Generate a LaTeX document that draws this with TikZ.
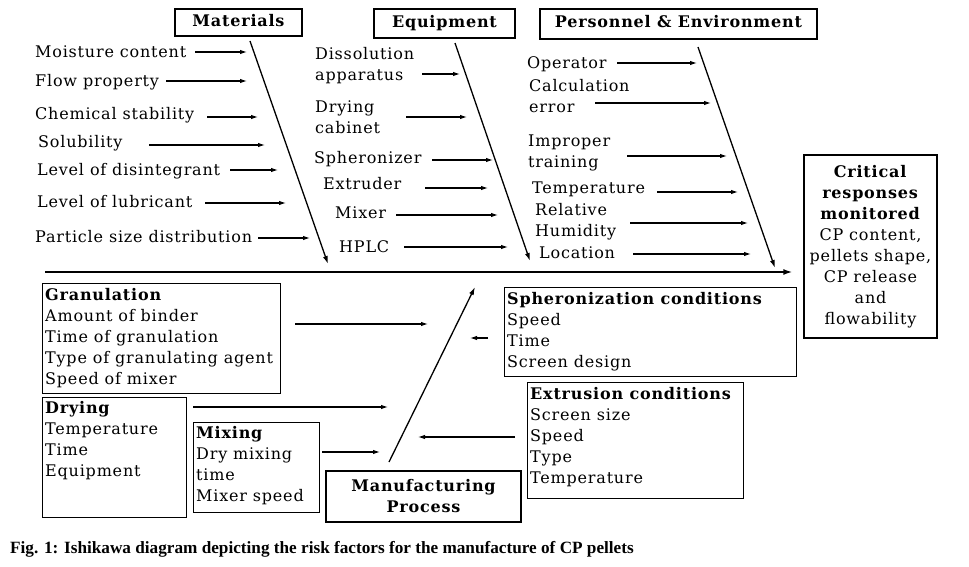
\documentclass[tikz,border=0pt]{standalone}
\usepackage{fontspec}
\setmainfont{DejaVu Serif}[LetterSpace=5]
\newfontfamily\capfont{Liberation Serif}
\usetikzlibrary{arrows.meta}

\newcommand{\txtsize}{\fontsize{16}{21}\selectfont}

\tikzset{
  cause/.style={font=\txtsize, inner sep=0pt, anchor=north west, align=left},
  head/.style={draw, line width=1.2pt, font=\txtsize\bfseries, inner sep=0pt,
    text height=11pt, text depth=3pt},
  frame/.style={draw, line width=1.3pt, inner sep=0pt, anchor=north west},
  bone/.style={line width=1.3pt, -{Latex[length=8pt,width=5pt]}},
  arr/.style={line width=1.1pt, -{Latex[length=7pt,width=4.5pt]}},
  spine/.style={line width=1.6pt, -{Latex[length=9pt,width=6pt]}},
}

\begin{document}
\begin{tikzpicture}[x=1pt,y=-1pt]
  \useasboundingbox (0,0) rectangle (969,567);

  % category heads
  \node[head, minimum width=127pt, minimum height=27pt] (mat) at (238.5,22.5) {Materials};
  \node[head, minimum width=141pt, minimum height=29pt] (equ) at (444.5,23.5) {Equipment};
  \node[head, minimum width=277pt, minimum height=30pt] (pers) at (678.5,24) {Personnel \& Environment};

  % causes: name/x/baseline/text/arrow y/arrow start/arrow end
  \foreach \nm/\tx/\by/\lbl/\ay/\xa/\xb in {
      mc/35/57/Moisture content/52/195/247,
      fp/35/86/Flow property/81/166/247,
      cs/35/119/Chemical stability/117/207/258,
      sol/38/147/Solubility/145/149/265,
      ld/37/175/Level of disintegrant/170/230/278,
      ll/37/207/Level of lubricant/203/205/286,
      ps/35/242/Particle size distribution/238/258/310,
      da/315/59/{Dissolution\\apparatus}/74/422/460,
      dc/315/112/{Drying\\cabinet}/117/406/467,
      sp/314/163/Spheronizer/160/432/493,
      ex/323/189/Extruder/188/425/488,
      mx/335/218/Mixer/215/396/498,
      hp/339/252/HPLC/247/404/508,
      op/527/68/Operator/63/617/697,
      ce/529/91/{Calculation\\error}/103/595/711,
      it/528/146/{Improper\\training}/156/627/727,
      te/532/193/Temperature/192/657/738,
      rh/535/215/{Relative\\Humidity}/223/630/748,
      lo/539/258/Location/254/633/751}{
    \node[cause] (\nm) at (\tx,{\by-14.7}) {\strut\lbl};
    \coordinate (\nm-s) at (\xa,\ay);
    \coordinate (\nm-e) at (\xb,\ay);
    \draw[arr] (\nm-s) -- (\nm-e);
  }

  % bones
  \coordinate (mat-a) at (250,41);  \coordinate (mat-b) at (328,264);
  \coordinate (equ-a) at (455,43);  \coordinate (equ-b) at (530,261);
  \coordinate (pers-a) at (698,47); \coordinate (pers-b) at (775,268);
  \foreach \from/\to in {mat-a/mat-b,equ-a/equ-b,pers-a/pers-b}
    \draw[bone] (\from) -- (\to);

  % effect
  \node[draw, line width=1.3pt, minimum width=133pt, minimum height=183pt, inner sep=0pt,
    align=center, font=\txtsize] (crit) at (870.5,246.5)
    {\textbf{Critical}\\\textbf{responses}\\\textbf{monitored}\\CP content,\\pellets shape,\\CP release\\and\\flowability};
  \coordinate (spine-a) at (45,272);
  \draw[spine, shorten >=11pt] (spine-a) -- (crit.west |- spine-a);

  % manufacturing process
  \node[draw, line width=1.3pt, minimum width=195pt, minimum height=51pt, inner sep=0pt,
    align=center, font=\txtsize\bfseries] (mfg) at (423.5,496.5) {Manufacturing\\Process};
  \coordinate (mfg-a) at (389,462); \coordinate (mfg-b) at (475,287);
  \draw[bone] (mfg-a) -- (mfg-b);

  \node[frame, minimum width=238pt, minimum height=110pt] (gran) at (42,283) {};
  \node[cause] (gran-t) at ([xshift=3pt,yshift=-3pt]gran.north west)
    {\strut\textbf{Granulation}\\Amount of binder\\Time of granulation\\Type of granulating agent\\Speed of mixer};
  \node[frame, minimum width=144pt, minimum height=120pt] (dry) at (42,397) {};
  \node[cause] (dry-t) at ([xshift=3pt,yshift=-2pt]dry.north west)
    {\strut\textbf{Drying}\\Temperature\\Time\\Equipment};
  \node[frame, minimum width=126pt, minimum height=90pt] (mix) at (193,422) {};
  \node[cause] (mix-t) at ([xshift=3pt,yshift=-2pt]mix.north west)
    {\strut\textbf{Mixing}\\Dry mixing\\time\\Mixer speed};
  \node[frame, minimum width=292pt, minimum height=89pt] (sph) at (504,287) {};
  \node[cause] (sph-t) at ([xshift=3pt,yshift=-3pt]sph.north west)
    {\strut\textbf{Spheronization conditions}\\Speed\\Time\\Screen design};
  \node[frame, minimum width=216pt, minimum height=116pt] (extr) at (527,382) {};
  \node[cause] (extr-t) at ([xshift=3pt,yshift=-3pt]extr.north west)
    {\strut\textbf{Extrusion conditions}\\Screen size\\Speed\\Type\\Temperature};

  % sub-cause arrows
  \foreach \nm/\xa/\xb/\ay in {gran/295/428/324, dry/193/388/407, mix/322/380/452,
      sph/488/470/338, extr/515/418/437}{
    \coordinate (\nm-s) at (\xa,\ay);
    \coordinate (\nm-e) at (\xb,\ay);
    \draw[arr] (\nm-s) -- (\nm-e);
  }

  \node[anchor=base west, inner sep=0pt, font=\capfont\bfseries\fontsize{17.2}{20}\selectfont]
    (cap) at (10,553) {Fig. 1: Ishikawa diagram depicting the risk factors for the manufacture of CP pellets};
\end{tikzpicture}
\end{document}
